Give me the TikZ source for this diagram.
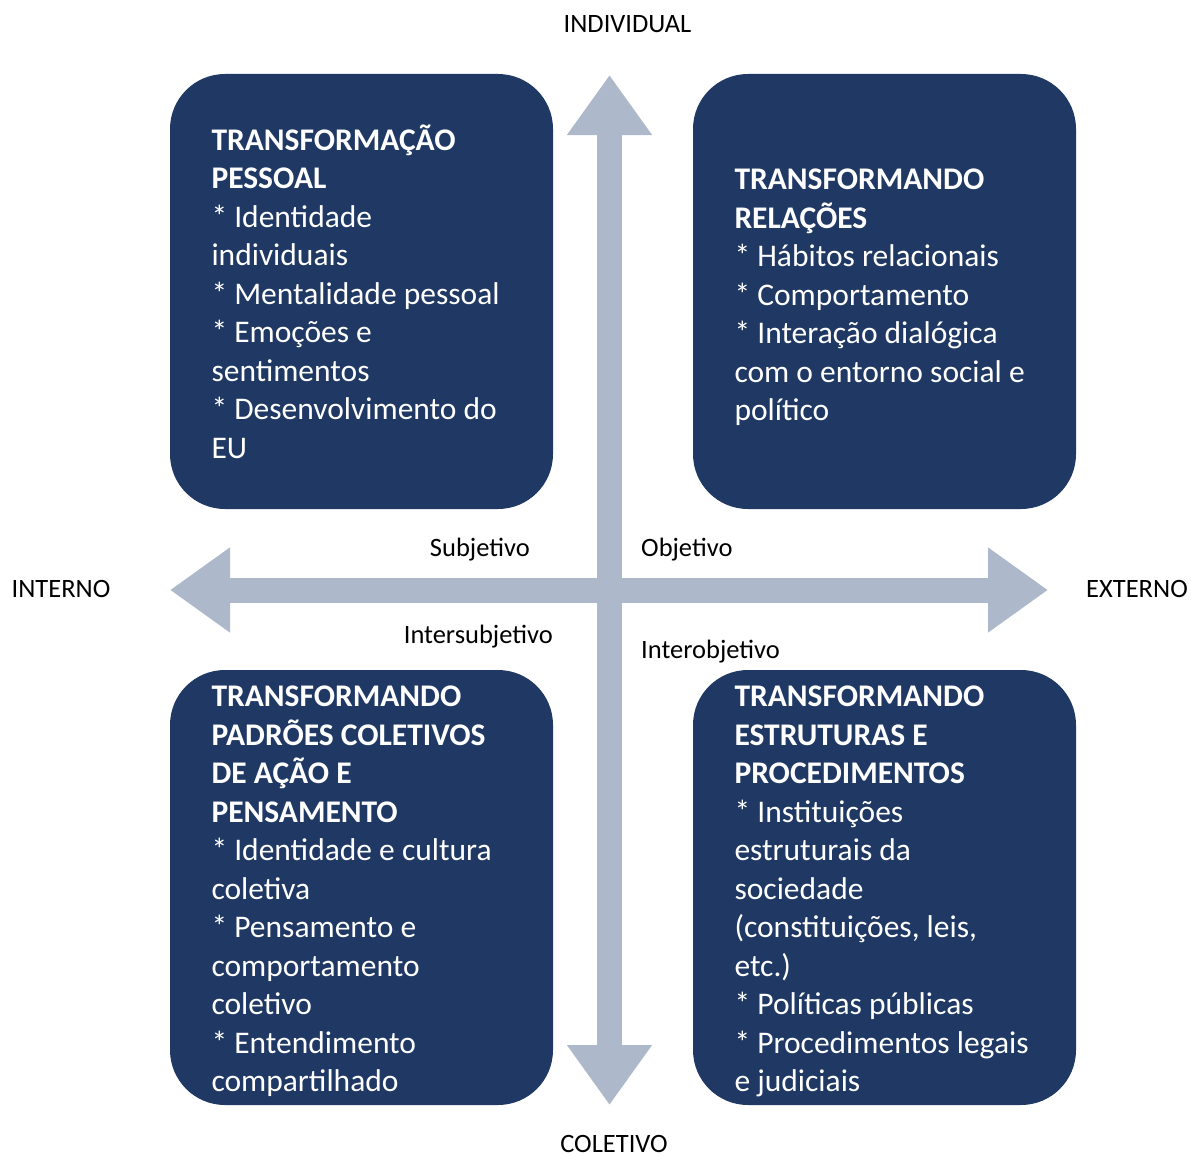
\documentclass[tikz,border=0pt]{standalone}
\usepackage{fontspec}
\setmainfont{Carlito}
\definecolor{mynavy}{RGB}{31,56,100}
\definecolor{mygray}{RGB}{173,185,202}
\usetikzlibrary{arrows.meta,positioning}

\begin{document}
\begin{tikzpicture}[
  x=1pt,
  y=-1pt,
  quadrant/.style={
    fill=mynavy,
    rounded corners=55pt,
    minimum width=383pt,
    minimum height=435pt
    },
  quadtext/.style={
    align=left,
    inner sep=0pt,
    text=white,
    font=\fontsize{31.5}{38.5}\selectfont
    },
  axis/.style={
    draw=mygray,
    line width=25pt,
    {Triangle[width=81pt,length=60pt]}-{Triangle[width=81pt,length=60pt]}
    },
  axislabel/.style={
    font=\fontsize{26.5}{32}\selectfont,
    inner sep=0pt
    }
]
\useasboundingbox (0,0) rectangle (1191,1156);

% axes
\coordinate (axisN) at (609.5,75);
\coordinate (axisS) at (609.5,1105);
\coordinate (axisW) at (170,590);
\coordinate (axisE) at (1048,590);

\draw[axis] (axisW) -- (axisE);
\draw[axis] (axisS) -- (axisN);

\node[axislabel, anchor=base] (individual) at (627.5,33) {INDIVIDUAL};
\node[axislabel, anchor=base] (coletivo) at (614,1152) {COLETIVO};
\node[axislabel, anchor=base] (interno) at (61,597) {INTERNO};
\node[axislabel, anchor=base] (externo) at (1137,597) {EXTERNO};

\node[axislabel, anchor=base east] (subj) at (530,556) {Subjetivo};
\node[axislabel, anchor=base west] (obj) at (641,556) {Objetivo};
\node[axislabel, anchor=base east] (intersubj) at (553,643) {Intersubjetivo};
\node[axislabel, anchor=base west] (interobj) at (641,658) {Interobjetivo};

% quadrants
\node[quadrant] (pessoal) at (361.5,291.5) {};
\node[quadrant] (relacoes) at (884.5,291.5) {};
\node[quadrant] (padroes) at (361.5,887.5) {};
\node[quadrant] (estruturas) at (884.5,887.5) {};

\node[quadtext, right=41.5pt of pessoal.west] (pessoaltxt)
  {
  \textbf{TRANSFORMAÇÃO}\\
  \textbf{PESSOAL}\\
  {*} Identidade\\
  individuais\\
  {*} Mentalidade pessoal\\
  {*} Emoções e\\
  sentimentos\\
  {*} Desenvolvimento do\\
  EU
  };
\node[quadtext, right=41.5pt of relacoes.west, yshift=-6pt] (relacoestxt)
  {
  \textbf{TRANSFORMANDO}\\
  \textbf{RELAÇÕES}\\
  {*} Hábitos relacionais\\
  {*} Comportamento\\
  {*} Interação dialógica\\
  com o entorno social e\\
  político
  };
\node[quadtext, right=41.5pt of padroes.west, yshift=-4pt] (padroestxt)
  {
  \textbf{TRANSFORMANDO}\\
  \textbf{PADRÕES COLETIVOS}\\
  \textbf{DE AÇÃO E}\\
  \textbf{PENSAMENTO}\\
  {*} Identidade e cultura\\
  coletiva\\
  {*} Pensamento e\\
  comportamento\\
  coletivo\\
  {*} Entendimento\\
  compartilhado
  };
\node[quadtext, right=41.5pt of estruturas.west, yshift=-4pt] (estruturastxt)
  {
  \textbf{TRANSFORMANDO}\\
  \textbf{ESTRUTURAS E}\\
  \textbf{PROCEDIMENTOS}\\
  {*} Instituições\\
  estruturais da\\
  sociedade\\
  (constituições, leis,\\
  etc.)\\
  {*} Políticas públicas\\
  {*} Procedimentos legais\\
  e judiciais
  };

\end{tikzpicture}
\end{document}
